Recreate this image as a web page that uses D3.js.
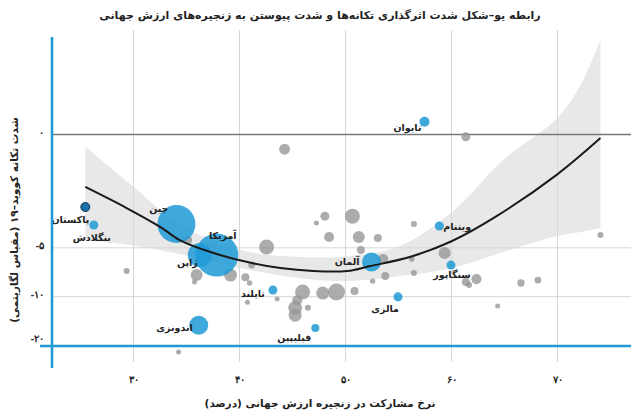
<!DOCTYPE html>
<html lang="fa">
<head>
  <meta charset="UTF-8" />
  <title>رابطه یو–شکل</title>
  <script src="https://d3js.org/d3.v7.min.js"></script>
  <style>
    body { margin: 0; background: #fff; }
    svg { display: block; font-family: "DejaVu Sans", sans-serif; }
    .tick text { font-size: 10px; font-weight: bold; fill: #222; }
    .lbl { font-size: 9.5px; font-weight: bold; fill: #222; }
    .title { font-size: 11px; font-weight: bold; fill: #222; }
    .axis-title { font-size: 10.5px; font-weight: bold; fill: #222; }
  </style>
</head>
<body>
<svg width="631" height="412"></svg>
<script>
  // محور افقی: نرخ مشارکت (درصد)
  const xTicks = [30, 40, 50, 60, 70];
  const xTickLabels = ["۳۰", "۴۰", "۵۰", "۶۰", "۷۰"];
  // محور عمودی (لگاریتمی): شدت تکانه
  const yTicks = [1, 5, 10, 20];
  const yTickLabels = ["۰", "-۵", "-۱۰", "-۲۰"];

  // کشورهای برجسته: [نام، مشارکت، شدت، اندازه]
  const highlighted = [
    ["پاکستان", 25.5, 2.82, 4.2],
    ["بنگلادش", 26.3, 3.64, 4.2],
    ["چین", 34.1, 3.59, 74.6],
    ["آمریکا", 37.9, 5.58, 95.5],
    ["ژاپن", 36.3, 5.58, 29.8],
    ["آلمان", 52.5, 6.16, 18.6],
    ["تایوان", 57.5, 0.84, 5.2],
    ["ویتنام", 58.9, 3.69, 4.2],
    ["سنگاپور", 60.0, 6.43, 4.2],
    ["تایلند", 43.2, 9.17, 4.2],
    ["مالزی", 55.0, 10.1, 4.2],
    ["اندونزی", 36.2, 15.1, 18.6],
    ["فیلیپین", 47.2, 15.7, 3.3]
  ];

  // سایر کشورها: [مشارکت، شدت، اندازه]
  const others = [
    [44.3, 1.24, 6.2], [61.4, 1.04, 4.2], [29.4, 7.0, 1.9], [35.2, 4.51, 3.3],
    [48.1, 3.21, 4.2], [50.7, 3.21, 11.6], [47.3, 3.54, 1.3], [48.5, 4.32, 5.2],
    [51.3, 4.32, 7.4], [53.1, 4.38, 3.3], [56.5, 3.59, 1.9], [42.6, 4.98, 11.6],
    [41.2, 6.43, 2.5], [40.6, 7.63, 3.3], [41.0, 8.30, 1.5], [39.2, 7.41, 8.7],
    [36.0, 7.41, 7.4], [35.8, 8.19, 1.3], [46.0, 9.43, 11.6], [47.9, 9.57, 8.7],
    [49.2, 9.43, 14.9], [50.9, 9.30, 3.3], [52.6, 8.07, 1.5], [45.5, 10.6, 5.2],
    [45.3, 11.8, 10], [45.3, 13.1, 8.7], [46.5, 11.8, 1.9], [43.6, 10.4, 1.3],
    [40.8, 10.9, 1.3], [34.3, 22.1, 1.3], [59.4, 5.42, 7.4], [56.3, 5.90, 1.5],
    [53.6, 5.90, 5.2], [53.8, 7.52, 3.3], [56.5, 7.20, 1.9], [62.4, 7.85, 5.2],
    [61.4, 8.19, 3.3], [61.7, 8.54, 1.9], [66.6, 8.30, 2.8], [68.2, 7.96, 2.5],
    [74.1, 4.20, 1.9], [64.4, 11.5, 1.3], [51.5, 5.19, 3.3]
  ];

  // منحنی برازش و بازه اطمینان
  const fitX = [25.5, 29.4, 32.6, 34.4, 37.6, 40.8, 43.9, 47.0, 50.2, 52.4, 56.1, 60.1, 64.3, 70.0, 74.1];
  const fitY = [2.12, 2.86, 3.75, 4.51, 5.42, 6.16, 6.71, 7.0, 7.0, 6.52, 5.74, 4.57, 3.21, 1.78, 1.06];
  const bandX = [25.5, 29.7, 34.4, 40.1, 45.8, 50.5, 55.2, 60.1, 64.9, 70.0, 72.2, 74.1];
  const bandUpper = [1.20, 2.03, 3.59, 5.19, 5.74, 5.66, 4.91, 3.03, 1.45, 0.80, 0.50, 0.263];
  const bandLower = [4.51, 4.84, 5.50, 6.71, 7.74, 8.07, 7.52, 6.71, 5.35, 4.26, 4.02, 3.80];

  const svg = d3.select("svg");
  const W = 631;
  const axisX = 52, axisY = 346;

  const x = d3.scaleLinear().domain([30, 70]).range([133, 557]);
  const y = d3.scaleLog().domain([1, 20]).range([134, 345]);
  const r = d3.scaleSqrt().domain([0, 100]).range([0, 22]);

  const blue = "#1f9ad6";

  // خطوط شبکه عمودی و برچسب‌های محور افقی
  const gx = svg.append("g")
    .attr("transform", "translate(0,362)")
    .call(d3.axisBottom(x).tickValues(xTicks).tickSize(-332).tickPadding(14)
      .tickFormat((d, i) => xTickLabels[i]));
  gx.select(".domain").remove();
  gx.selectAll(".tick line").attr("stroke", "#d6d6d6");

  // خطوط شبکه افقی و برچسب‌های محور عمودی
  const gy = svg.append("g")
    .attr("transform", `translate(${axisX},0)`)
    .call(d3.axisLeft(y).tickValues(yTicks).tickSize(-(W - axisX)).tickPadding(8)
      .tickFormat((d, i) => yTickLabels[i]));
  gy.select(".domain").remove();
  gy.selectAll(".tick line").attr("stroke", "#d6d6d6");
  gy.selectAll(".tick text").attr("dy", d => d === 20 ? "-0.38em" : "0.1em");

  // بازه اطمینان
  const band = bandX.map((v, i) => ({x: v, hi: bandUpper[i], lo: bandLower[i]}));
  svg.append("path")
    .datum(band)
    .attr("fill", "#d9d9d9")
    .attr("fill-opacity", 0.6)
    .attr("d", d3.area()
      .x(d => x(d.x)).y0(d => y(d.lo)).y1(d => y(d.hi))
      .curve(d3.curveCatmullRom));

  // خط صفر
  gy.raise();
  gy.selectAll(".tick").filter(d => d === 1).select("line")
    .attr("stroke", "#7a7a7a").attr("stroke-width", 1.4);

  // سایر کشورها
  svg.append("g").selectAll("circle")
    .data(others)
    .enter().append("circle")
    .attr("cx", d => x(d[0]))
    .attr("cy", d => y(d[1]))
    .attr("r", d => r(d[2]))
    .attr("fill", "#959595")
    .attr("fill-opacity", 0.78);

  // کشورهای برجسته
  svg.append("g").selectAll("circle")
    .data(highlighted)
    .enter().append("circle")
    .attr("cx", d => x(d[1]))
    .attr("cy", d => y(d[2]))
    .attr("r", d => r(d[3]))
    .attr("fill", d => d[0] === "پاکستان" ? "#1a6fa6" : blue)
    .attr("fill-opacity", d => d[0] === "پاکستان" ? 1 : 0.85)
    .attr("stroke", d => d[0] === "پاکستان" ? "#163a55" : "none")
    .attr("stroke-width", 1);

  // منحنی برازش
  const fit = fitX.map((v, i) => [v, fitY[i]]);
  svg.append("path")
    .datum(fit)
    .attr("fill", "none")
    .attr("stroke", "#1a1a1a")
    .attr("stroke-width", 2)
    .attr("d", d3.line().x(d => x(d[0])).y(d => y(d[1])).curve(d3.curveCatmullRom));

  // برچسب کشورها: [dx, dy, anchor]
  const labelPos = {
    "پاکستان": [4, 16, "end"],
    "بنگلادش": [-2, 16, "middle"],
    "چین": [-8, -12, "end"],
    "آمریکا": [6, -16, "middle"],
    "ژاپن": [-2, 11, "end"],
    "آلمان": [-12, 3, "end"],
    "تایوان": [-3, 9, "end"],
    "ویتنام": [4, 4, "start"],
    "سنگاپور": [1, 13, "middle"],
    "تایلند": [-8, 7, "end"],
    "مالزی": [1, 15, "end"],
    "اندونزی": [-6, 6, "end"],
    "فیلیپین": [-4, 13, "end"]
  };
  svg.append("g").selectAll("text")
    .data(highlighted)
    .enter().append("text")
    .attr("class", "lbl")
    .attr("x", d => x(d[1]) + labelPos[d[0]][0])
    .attr("y", d => y(d[2]) + labelPos[d[0]][1])
    .attr("text-anchor", d => labelPos[d[0]][2])
    .text(d => d[0]);

  // محورهای آبی
  svg.append("line")
    .attr("x1", axisX).attr("x2", axisX).attr("y1", 37).attr("y2", 368)
    .attr("stroke", blue).attr("stroke-width", 2.6);
  svg.append("line")
    .attr("x1", 40).attr("x2", W).attr("y1", axisY).attr("y2", axisY)
    .attr("stroke", blue).attr("stroke-width", 2.6);

  // عنوان‌ها
  svg.append("text")
    .attr("class", "title")
    .attr("x", 320).attr("y", 19)
    .attr("text-anchor", "middle")
    .text("رابطه یو–شکل شدت اثرگذاری تکانه‌ها و شدت پیوستن به زنجیره‌های ارزش جهانی");

  svg.append("text")
    .attr("class", "axis-title")
    .attr("x", 320).attr("y", 407)
    .attr("text-anchor", "middle")
    .text("نرخ مشارکت در زنجیره ارزش جهانی (درصد)");

  svg.append("text")
    .attr("class", "axis-title")
    .attr("transform", "translate(18,220) rotate(-90)")
    .attr("text-anchor", "middle")
    .text("شدت تکانه کووید–۱۹ (مقیاس لگاریتمی)");
</script>
</body>
</html>
